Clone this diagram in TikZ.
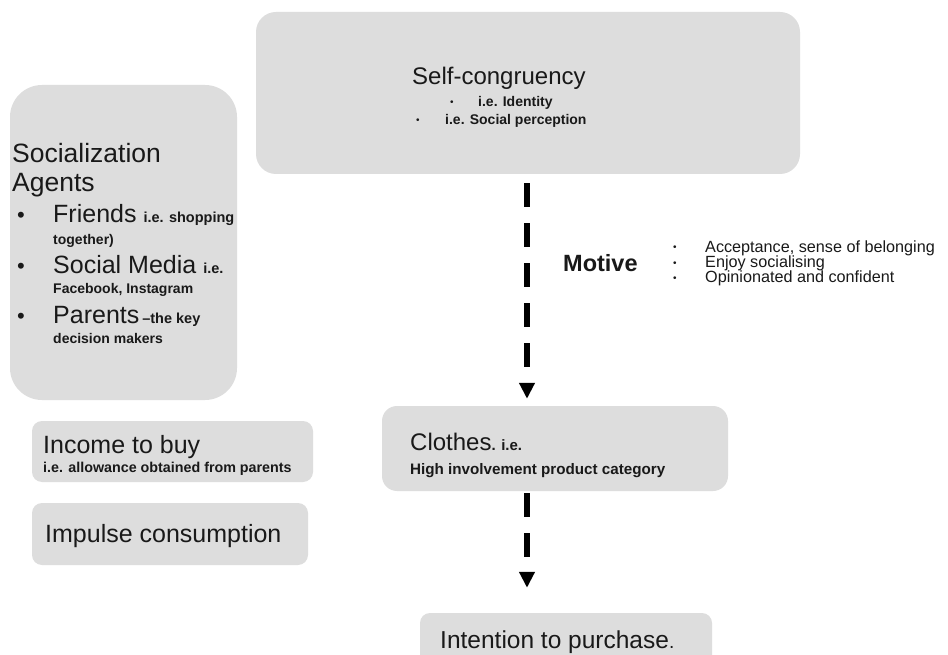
\documentclass[tikz,border=0pt]{standalone}
\usepackage{fontspec}
\setmainfont{Liberation Sans}
\usetikzlibrary{arrows.meta}
\definecolor{boxgray}{RGB}{221,221,221}
\definecolor{txt}{RGB}{25,25,25}
\newcommand{\fsz}[1]{\fontsize{#1}{#1}\selectfont}
\begin{document}
\begin{tikzpicture}[x=1pt,y=-1pt,
  gbox/.style={fill=boxgray,draw=none,inner sep=0,minimum width=#1},
  txtn/.style={inner sep=0,anchor=base west,text=txt},
  big/.style={txtn,font=\fsz{25}},
  small/.style={txtn,font=\bfseries\fsz{14}},
  flowarrow/.style={line width=6pt,dash pattern=on 24pt off 16pt,-{Triangle[width=15pt,length=16pt]}}]
\clip (0,0) rectangle (948,655);
\fill[white] (0,0) rectangle (948,655);
% boxes
\node[gbox=544pt,minimum height=162pt,rounded corners=20pt] (self) at (528,93) {};
\node[gbox=227pt,minimum height=315pt,rounded corners=32pt] (social) at (123.5,242.5) {};
\node[gbox=281pt,minimum height=61pt,rounded corners=10pt] (income) at (172.5,451.5) {};
\node[gbox=276pt,minimum height=62pt,rounded corners=10pt] (impulse) at (170,534) {};
\node[gbox=346pt,minimum height=85pt,rounded corners=15pt] (clothes) at (555,448.5) {};
\node[gbox=292pt,minimum height=70pt,rounded corners=10pt] (intention) at (566,648) {};
% self-congruency
\node[txtn,font=\fsz{24}] (selft) at (412,85) {Self-congruency};
\node[txtn,font=\fsz{10}] (selfb1) at (450,106) {•};
\node[small] (selfl1) at (478,107) {i.e. Identity};
\node[txtn,font=\fsz{10}] (selfb2) at (416,124) {•};
\node[small] (selfl2) at (445,125) {i.e. Social perception};
% socialization agents
\node[txtn,font=\fsz{26.5}] (soct1) at (12,163) {Socialization};
\node[txtn,font=\fsz{26.5}] (soct2) at (12,192) {Agents};
\node[txtn,font=\fsz{22}] (socb1) at (17,223) {•};
\node[big] (soc1) at (53,223) {Friends \fsz{14.5}\bfseries i.e. shopping};
\node[small] (soc1b) at (53,244) {together)};
\node[txtn,font=\fsz{22}] (socb2) at (17,273) {•};
\node[big] (soc2) at (53,273) {Social Media \fsz{14.5}\bfseries i.e.};
\node[small] (soc2b) at (53,293) {Facebook, Instagram};
\node[txtn,font=\fsz{22}] (socb3) at (17,323) {•};
\node[big] (soc3) at (53,323) {Parents \fsz{14.5}\bfseries\kern-4pt --the key};
\node[small] (soc3b) at (53,343) {decision makers};
% income / impulse
\node[big] (inct) at (43,453) {Income to buy};
\node[txtn,font=\bfseries\fsz{14.3}] (incs) at (43,472) {i.e. allowance obtained from parents};
\node[big] (impt) at (45,542) {Impulse consumption};
% clothes
\node[txtn,font=\fsz{24}] (clot) at (410,450) {Clothes\fsz{15}\bfseries. i.e.};
\node[txtn,font=\bfseries\fsz{15.2}] (clos) at (410,474) {High involvement product category};
% intention
\node[txtn,font=\fsz{24.5}] (intt) at (440,648) {Intention to purchase\fsz{19}.};
% motive
\node[txtn,font=\bfseries\fsz{23.5}] (motive) at (563,272) {Motive};
\node[txtn,font=\fsz{10}] (mb1) at (673,251) {•};
\node[txtn,font=\fsz{10}] (mb2) at (673,266) {•};
\node[txtn,font=\fsz{10}] (mb3) at (673,281) {•};
\node[txtn,font=\fsz{16.2}] (m1) at (705,252) {Acceptance, sense of belonging};
\node[txtn,font=\fsz{16.2}] (m2) at (705,267) {Enjoy socialising};
\node[txtn,font=\fsz{16.2}] (m3) at (705,282) {Opinionated and confident};
% connectors
\draw[flowarrow,shorten <=9pt,shorten >=7pt] ([xshift=-1pt]self.south) -- ([xshift=-1pt]self.south |- clothes.north);
\draw[flowarrow,shorten <=2pt,shorten >=25pt] ([xshift=-1pt]self.south |- clothes.south) -- ([xshift=-1pt]self.south |- intention.north);
\end{tikzpicture}
\end{document}
